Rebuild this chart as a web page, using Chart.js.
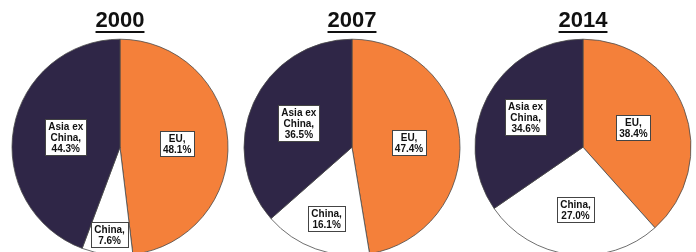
<!DOCTYPE html>
<html>
<head>
<meta charset="utf-8">
<script src="https://cdn.jsdelivr.net/npm/chart.js@4/dist/chart.umd.min.js"></script>
<style>
  html, body { margin: 0; padding: 0; background: #fff; overflow: hidden; }
  body { width: 696px; height: 252px; position: relative; }
  .pie { position: absolute; top: 0; width: 232px; height: 262px; }
</style>
</head>
<body>
<div class="pie" style="left:4px"><canvas id="pie-2000"></canvas></div>
<div class="pie" style="left:236px"><canvas id="pie-2007"></canvas></div>
<div class="pie" style="left:467px"><canvas id="pie-2014"></canvas></div>
<script>
const categories = ['EU', 'China', 'Asia ex China'];
const labelLines = [['EU,'], ['China,'], ['Asia ex', 'China,']];
const years = ['2000', '2007', '2014'];
const share2000 = [48.1, 7.6, 44.3];
const share2007 = [47.4, 16.1, 36.5];
const share2014 = [38.4, 27.0, 34.6];
const colors = ['#F4803A', '#FFFFFF', '#2F2647'];

// how far out (fraction of radius) each slice's label sits
const labelDist = {
    '2000': [0.53, 0.81, 0.51],
    '2007': [0.53, 0.70, 0.54],
    '2014': [0.50, 0.58, 0.60]
};

const titleUnderline = {
    id: 'titleUnderline',
    afterDraw(chart) {
        const tb = chart.titleBlock;
        const ctx = chart.ctx;
        ctx.save();
        ctx.font = 'bold 22px "Liberation Sans", Arial, sans-serif';
        const w = ctx.measureText(chart.options.plugins.title.text).width;
        const cx = (chart.chartArea.left + chart.chartArea.right) / 2;
        ctx.strokeStyle = '#111';
        ctx.lineWidth = 2;
        ctx.beginPath();
        ctx.moveTo(cx - w / 2, tb.top + 32);
        ctx.lineTo(cx + w / 2, tb.top + 32);
        ctx.stroke();
        ctx.restore();
    }
};

const boxLabels = {
    id: 'boxLabels',
    afterDatasetsDraw(chart, args, opts) {
        const ctx = chart.ctx;
        const meta = chart.getDatasetMeta(0);
        const values = chart.data.datasets[0].data;
        ctx.save();
        ctx.font = 'bold 10px "Liberation Sans", Arial, sans-serif';
        ctx.textAlign = 'center';
        ctx.textBaseline = 'middle';
        meta.data.forEach((arc, i) => {
            const p = arc.getProps(['x', 'y', 'startAngle', 'endAngle', 'outerRadius']);
            const mid = (p.startAngle + p.endAngle) / 2;
            const r = p.outerRadius * opts.dist[i];
            const x = p.x + Math.cos(mid) * r;
            const y = p.y + Math.sin(mid) * r;
            const lines = labelLines[i].concat([values[i].toFixed(1) + '%']);
            const lh = 11;
            let w = 0;
            lines.forEach(l => { w = Math.max(w, ctx.measureText(l).width); });
            const bw = Math.round(w + 6);
            const bh = lines.length * lh + 3;
            const bx = Math.round(x - bw / 2) + 0.5;
            const by = Math.round(y - bh / 2) + 0.5;
            ctx.fillStyle = '#fff';
            ctx.fillRect(bx, by, bw, bh);
            ctx.strokeStyle = '#444';
            ctx.lineWidth = 1;
            ctx.strokeRect(bx, by, bw, bh);
            ctx.fillStyle = '#111';
            lines.forEach((l, k) => {
                ctx.fillText(l, x, by + 2 + lh / 2 + k * lh);
            });
        });
        ctx.restore();
    }
};

function makePie(id, year, values) {
    return new Chart(document.getElementById(id), {
        type: 'pie',
        data: {
            labels: categories,
            datasets: [{
                data: values,
                backgroundColor: colors,
                borderColor: '#4a4a4a',
                borderWidth: 0.8
            }]
        },
        options: {
            responsive: true,
            maintainAspectRatio: false,
            animation: false,
            radius: 108,
            layout: { padding: { top: 0, bottom: 6, left: 0, right: 0 } },
            plugins: {
                legend: { display: false },
                tooltip: { enabled: false },
                title: {
                    display: true,
                    text: year,
                    color: '#111',
                    font: { family: '"Liberation Sans", Arial, sans-serif', size: 22, weight: 'bold', lineHeight: 1.2 },
                    padding: { top: 8, bottom: 4 }
                },
                boxLabels: { dist: labelDist[year] }
            }
        },
        plugins: [titleUnderline, boxLabels]
    });
}

makePie('pie-2000', years[0], share2000);
makePie('pie-2007', years[1], share2007);
makePie('pie-2014', years[2], share2014);
</script>
</body>
</html>
